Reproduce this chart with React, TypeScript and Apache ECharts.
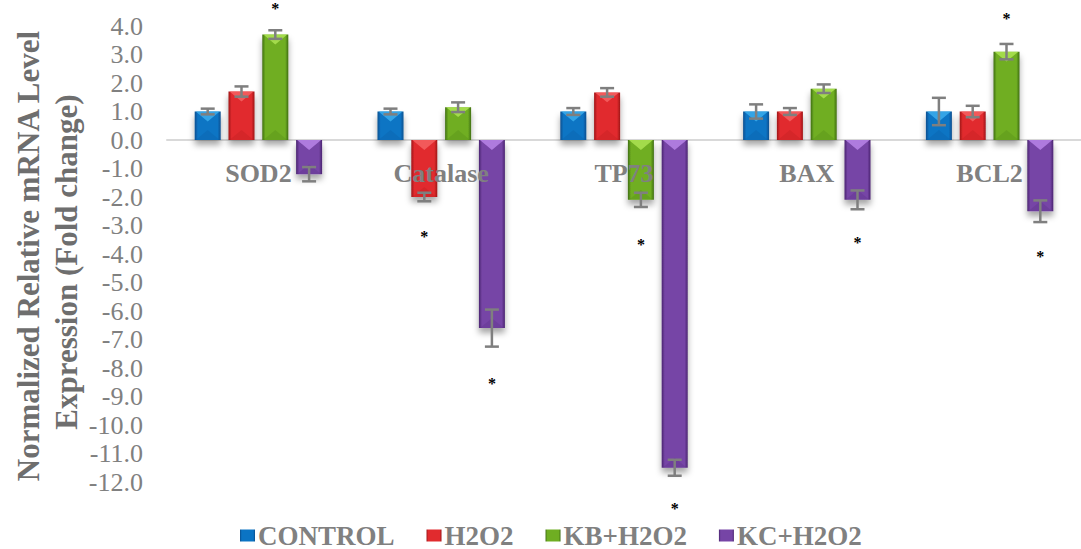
import React, { useEffect, useRef } from "react";
import * as echarts from "echarts";

const categories = ["SOD2", "Catalase", "TP73", "BAX", "BCL2"];
const seriesNames = ["CONTROL", "H2O2", "KB+H2O2", "KC+H2O2"];

const control = [1.0, 1.0, 1.0, 1.0, 1.0];
const controlErr = [0.1, 0.1, 0.12, 0.25, 0.48];
const h2o2 = [1.7, -2.0, 1.67, 1.0, 1.0];
const h2o2Err = [0.18, 0.15, 0.15, 0.12, 0.2];
const kbH2o2 = [3.7, 1.15, -2.1, 1.8, 3.1];
const kbH2o2Err = [0.15, 0.17, 0.25, 0.15, 0.27];
const kcH2o2 = [-1.2, -6.6, -11.5, -2.1, -2.5];
const kcH2o2Err = [0.25, 0.65, 0.28, 0.33, 0.38];

// significance markers: [categoryIndex, seriesIndex, value position]
const significance: [number, number, number][] = [
  [0, 2, 4.74],
  [1, 1, -3.23],
  [1, 3, -8.42],
  [2, 2, -3.54],
  [2, 3, -12.8],
  [3, 3, -3.47],
  [4, 2, 4.39],
  [4, 3, -3.93],
];

const values = [control, h2o2, kbH2o2, kcH2o2];
const errors = [controlErr, h2o2Err, kbH2o2Err, kcH2o2Err];

const palette = [
  { dark: "#0a4f8f", main: "#0b74c4", light: "#42b4f2" },
  { dark: "#9e1518", main: "#e12b2e", light: "#f76a6a" },
  { dark: "#3f6e12", main: "#6fae22", light: "#b4ea5a" },
  { dark: "#4a2470", main: "#7645a6", light: "#c18ef0" },
];

const BAR_W = 26;
const BAR_GAP = 0.3;

function barOffset(i: number) {
  const n = 4;
  const total = n * BAR_W + (n - 1) * BAR_GAP * BAR_W;
  return -total / 2 + i * BAR_W * (1 + BAR_GAP) + BAR_W / 2;
}

export default function App() {
  const ref = useRef<HTMLDivElement>(null);
  useEffect(() => {
    document.body.style.margin = "0";
    const chart = echarts.init(ref.current!, undefined, { renderer: "svg" });
    const font = "'Liberation Serif', 'Times New Roman', serif";

    const barSeries = seriesNames.map((name, i) => ({
      name,
      type: "bar",
      barWidth: BAR_W,
      barGap: BAR_GAP * 100 + "%",
      z: 2,
      data: values[i],
      itemStyle: {
        color: new echarts.graphic.LinearGradient(0, 0, 1, 0, [
          { offset: 0, color: palette[i].dark },
          { offset: 0.12, color: palette[i].main },
          { offset: 0.5, color: palette[i].main },
          { offset: 0.88, color: palette[i].main },
          { offset: 1, color: palette[i].dark },
        ]),
        shadowColor: "rgba(0,0,0,0.35)",
        shadowBlur: 6,
        shadowOffsetY: 5,
      },
    }));

    const highlightData: number[][] = [];
    values.forEach((arr, s) => arr.forEach((v, c) => highlightData.push([c, v, s])));

    const highlight = {
      type: "custom",
      z: 3,
      silent: true,
      renderItem: (params: any, api: any) => {
        const c = api.value(0);
        const v = api.value(1);
        const s = api.value(2);
        const top = api.coord([c, Math.max(v, 0)]);
        const bot = api.coord([c, Math.min(v, 0)]);
        const x = top[0] + barOffset(s);
        const hw = BAR_W / 2;
        const depth = Math.min(BAR_W * 0.38, (bot[1] - top[1]) / 2);
        return {
          type: "group",
          children: [
            {
              type: "polygon",
              shape: {
                points: [
                  [x - hw + 1, top[1]],
                  [x + hw - 1, top[1]],
                  [x, top[1] + depth],
                ],
              },
              style: { fill: palette[s].light, opacity: 0.75 },
            },
            {
              type: "polygon",
              shape: {
                points: [
                  [x - hw + 1, bot[1]],
                  [x + hw - 1, bot[1]],
                  [x, bot[1] - depth],
                ],
              },
              style: { fill: palette[s].dark, opacity: 0.18 },
            },
          ],
        };
      },
      data: highlightData,
    };

    const errData: number[][] = [];
    values.forEach((arr, s) =>
      arr.forEach((v, c) => errData.push([c, v, errors[s][c], s]))
    );

    const errorBars = {
      type: "custom",
      z: 4,
      silent: true,
      clip: false,
      renderItem: (params: any, api: any) => {
        const c = api.value(0);
        const v = api.value(1);
        const e = api.value(2);
        const s = api.value(3);
        const hi = api.coord([c, v + e]);
        const lo = api.coord([c, v - e]);
        const x = hi[0] + barOffset(s);
        const cap = 7;
        const st = { stroke: "#7f7f7f", lineWidth: 2.5 };
        return {
          type: "group",
          children: [
            { type: "line", shape: { x1: x, y1: hi[1], x2: x, y2: lo[1] }, style: st },
            { type: "line", shape: { x1: x - cap, y1: hi[1], x2: x + cap, y2: hi[1] }, style: st },
            { type: "line", shape: { x1: x - cap, y1: lo[1], x2: x + cap, y2: lo[1] }, style: st },
          ],
        };
      },
      data: errData,
    };

    const stars = {
      type: "custom",
      z: 5,
      silent: true,
      clip: false,
      renderItem: (params: any, api: any) => {
        const c = api.value(0);
        const s = api.value(1);
        const v = api.value(2);
        const p = api.coord([c, v]);
        return {
          type: "text",
          x: p[0] + barOffset(s),
          y: p[1] + 4,
          style: {
            text: "*",
            fill: "#000",
            font: "bold 16px " + font,
            align: "center",
            verticalAlign: "middle",
          },
        };
      },
      data: significance,
    };

    const catLabels = {
      type: "custom",
      z: 6,
      silent: true,
      clip: false,
      renderItem: (params: any, api: any) => {
        const c = api.value(0);
        const p = api.coord([c, 0]);
        return {
          type: "text",
          x: p[0],
          y: p[1] + 33,
          style: {
            text: categories[c],
            fill: "#808080",
            font: "bold 26px " + font,
            align: "center",
            verticalAlign: "middle",
          },
        };
      },
      data: categories.map((_, i) => [i, 0]),
    };

    chart.setOption({
      animation: false,
      backgroundColor: "#ffffff",
      grid: { left: 167, right: -13, top: 26, bottom: 67 },
      legend: {
        data: seriesNames,
        left: 235,
        top: 517,
        icon: "rect",
        itemWidth: 15,
        itemHeight: 12,
        itemGap: 32,
        textStyle: {
          fontFamily: font,
          fontWeight: "bold",
          fontSize: 27,
          color: "#808080",
          padding: [0, 0, 0, -2],
        },
      },
      xAxis: {
        type: "category",
        data: categories,
        axisLine: { onZero: true, lineStyle: { color: "#d9d9d9", width: 2 } },
        axisTick: { show: false },
        axisLabel: { show: false },
        z: 1,
      },
      yAxis: {
        type: "value",
        min: -12,
        max: 4,
        interval: 1,
        axisLine: { show: false },
        axisTick: { show: false },
        splitLine: { show: false },
        axisLabel: {
          margin: 24,
          fontFamily: font,
          fontSize: 26,
          color: "#808080",
          formatter: (v: number) => v.toFixed(1),
        },
      },
      graphic: [
        {
          type: "text",
          x: 28,
          y: 256,
          rotation: Math.PI / 2,
          style: {
            text: "Normalized Relative mRNA Level",
            font: "bold 31px " + font,
            fill: "#6e6e6e",
            align: "center",
            verticalAlign: "middle",
          },
        },
        {
          type: "text",
          x: 66,
          y: 262,
          rotation: Math.PI / 2,
          style: {
            text: "Expression (Fold change)",
            font: "bold 31px " + font,
            fill: "#6e6e6e",
            align: "center",
            verticalAlign: "middle",
          },
        },
      ],
      series: [...barSeries, highlight, errorBars, stars, catLabels],
    });
    return () => chart.dispose();
  }, []);
  return (
    <div
      ref={ref}
      style={{ position: "absolute", left: 0, top: 0, width: 1081, height: 549 }}
    />
  );
}
